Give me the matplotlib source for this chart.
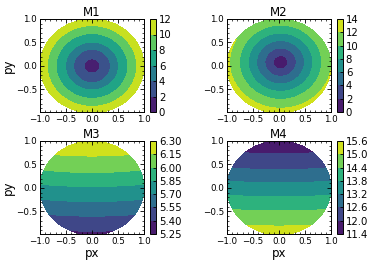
import numpy as np
import matplotlib
matplotlib.use("Agg")
import matplotlib.pyplot as plt
from matplotlib.ticker import AutoMinorLocator, MultipleLocator

# ---- data ----
titles = ["M1", "M2", "M3", "M4"]

# M1, M2: radial profiles (distance from ring centre -> value)
m1_center = (0.0, 0.0)
m1_radii = [0.0, 0.15, 0.355, 0.51, 0.69, 0.86, 1.0]
m1_values = [0.3, 2.0, 4.0, 6.0, 8.0, 10.0, 11.6]
m1_levels = [0, 2, 4, 6, 8, 10, 12]

m2_center = (0.03, 0.08)
m2_radii = [0.0, 0.14, 0.30, 0.46, 0.62, 0.79, 0.98, 1.1]
m2_values = [0.3, 2.0, 4.0, 6.0, 8.0, 10.0, 12.0, 13.9]
m2_levels = [0, 2, 4, 6, 8, 10, 12, 14]

# M3, M4: vertical profiles along x = 0 plus a small x-curvature term
m3_y = [-1.0, -0.92, -0.60, -0.29, 0.03, 0.33, 0.68, 1.0]
m3_values = [5.36, 5.40, 5.55, 5.70, 5.85, 6.00, 6.15, 6.29]
m3_curv = -0.025
m3_levels = [5.25, 5.40, 5.55, 5.70, 5.85, 6.00, 6.15, 6.30]

m4_y = [-1.0, -0.81, -0.49, -0.19, 0.11, 0.39, 0.73, 1.0]
m4_values = [15.45, 15.0, 14.4, 13.8, 13.2, 12.6, 12.0, 11.5]
m4_curv = 0.08
m4_levels = [11.4, 12.0, 12.6, 13.2, 13.8, 14.4, 15.0, 15.6]

# ---- grid ----
x = np.linspace(-1, 1, 401)
y = np.linspace(-1, 1, 401)
X, Y = np.meshgrid(x, y)
outside = X**2 + Y**2 > 1.0


def radial(center, radii, values):
    R = np.hypot(X - center[0], Y - center[1])
    return np.ma.array(np.interp(R, radii, values), mask=outside)


def vertical(ys, values, curv):
    Z = np.interp(Y, ys, values) + curv * X**2
    return np.ma.array(Z, mask=outside)


fields = [
    radial(m1_center, m1_radii, m1_values),
    radial(m2_center, m2_radii, m2_values),
    vertical(m3_y, m3_values, m3_curv),
    vertical(m4_y, m4_values, m4_curv),
]
levels = [m1_levels, m2_levels, m3_levels, m4_levels]
cbar_fmt = ["%d", "%d", "%.2f", "%.1f"]

W, H = 374, 264
fig = plt.figure(figsize=(W / 100, H / 100), dpi=100)

ax_px = [(40, 19), (227, 19), (40, 141), (227, 141)]
ax_w, ax_h = 104, 93
cb_dx, cb_w = 110, 6

for i in range(4):
    lx, ty = ax_px[i]
    ax = fig.add_axes([lx / W, 1 - (ty + ax_h) / H, ax_w / W, ax_h / H])
    cs = ax.contourf(X, Y, fields[i], levels=levels[i], cmap="viridis")
    ax.set_xlim(-1, 1)
    ax.set_ylim(-0.98, 1.0)
    ax.xaxis.set_major_locator(MultipleLocator(0.5))
    ax.yaxis.set_major_locator(MultipleLocator(0.5))
    ax.xaxis.set_minor_locator(AutoMinorLocator(5))
    ax.yaxis.set_minor_locator(AutoMinorLocator(5))
    ax.tick_params(which="both", direction="in", top=True, right=True,
                   labelsize=6.3, pad=2)
    ax.tick_params(which="major", length=3, width=0.6)
    ax.tick_params(which="minor", length=1.6, width=0.5)
    for s in ax.spines.values():
        s.set_linewidth(0.7)
    ax.set_title(titles[i], fontsize=8.5, pad=2.5)
    if i % 2 == 0:
        ax.set_ylabel("py", fontsize=8.5, labelpad=1)
    if i >= 2:
        ax.set_xlabel("px", fontsize=8.5, labelpad=1)

    cax = fig.add_axes([(lx + cb_dx) / W, 1 - (ty + ax_h) / H, cb_w / W, ax_h / H])
    cb = fig.colorbar(cs, cax=cax, ticks=levels[i], format=cbar_fmt[i])
    cb.ax.tick_params(labelsize=7.3, direction="in", length=2.5, width=0.6, pad=2)
    cb.outline.set_linewidth(0.7)

fig.savefig("out.png", dpi=100)
